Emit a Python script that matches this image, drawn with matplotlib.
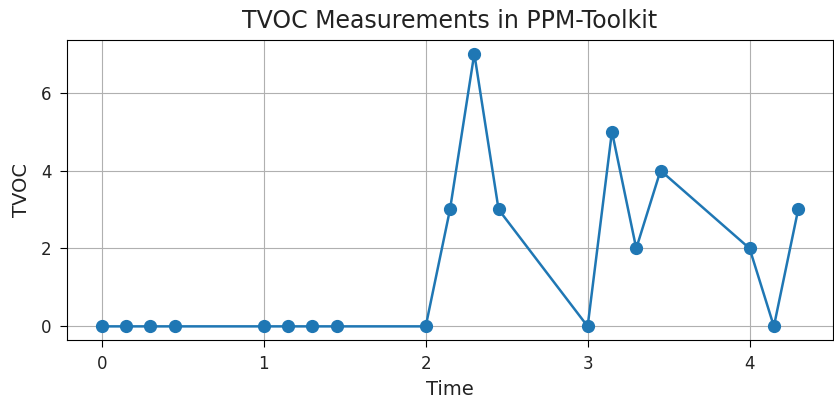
import matplotlib
matplotlib.use("Agg")
import matplotlib.pyplot as plt
from matplotlib.ticker import MultipleLocator

time = [0, 0.15, 0.3, 0.45, 1, 1.15, 1.3, 1.45, 2, 2.15, 2.3, 2.45,
        3, 3.15, 3.3, 3.45, 4, 4.15, 4.3]
tvoc = [0, 0, 0, 0, 0, 0, 0, 0, 0, 3, 7, 3, 0, 5, 2, 4, 2, 0, 3]

fig = plt.figure(figsize=(8.34, 4.03), dpi=100)
ax = fig.add_axes([67/834, 1 - 340/403, (833-67)/834, (340-40)/403])
ax.plot(time, tvoc, marker='o', color='#1f77b4', markersize=8.5, linewidth=1.8)
ax.set_title('TVOC Measurements in PPM-Toolkit', fontsize=17, pad=8.5, color='#222222')
ax.set_xlabel('Time', fontsize=14, labelpad=5, color='#222222')
ax.set_ylabel('TVOC', fontsize=14, labelpad=7, color='#222222')
ax.yaxis.set_major_locator(MultipleLocator(2))
ax.tick_params(labelsize=12, labelcolor='#222222', length=5, pad=6)
ax.grid(True)
fig.savefig('out.png', dpi=100)
